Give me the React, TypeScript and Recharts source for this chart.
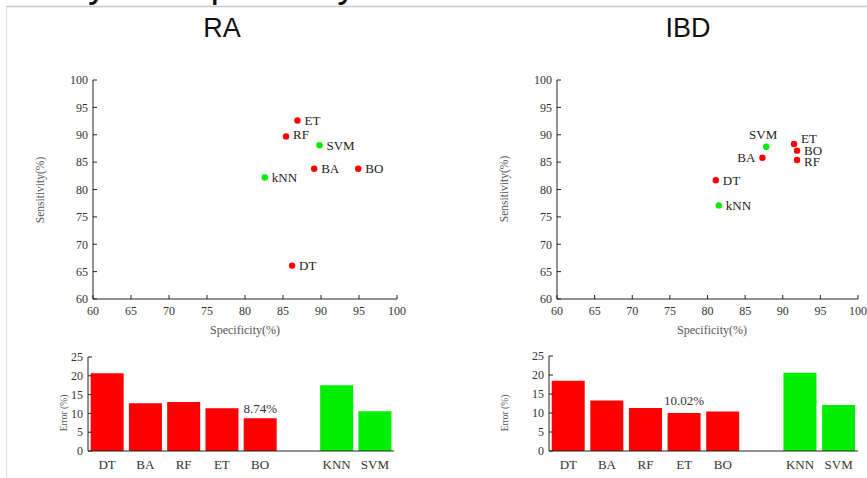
import React from 'react';
import { ScatterChart, Scatter, XAxis, YAxis, BarChart, Bar, Cell, LabelList } from 'recharts';

// ---- data ----
const methods = ['DT', 'BA', 'RF', 'ET', 'BO', 'kNN', 'SVM'];
const ensembleMethods = ['DT', 'BA', 'RF', 'ET', 'BO'];
const raSpecificity = [86.2, 89.1, 85.4, 86.9, 94.9, 82.6, 89.8];
const raSensitivity = [66.1, 83.8, 89.7, 92.6, 83.8, 82.2, 88.1];
const ibdSpecificity = [81.1, 87.3, 91.9, 91.5, 91.9, 81.5, 87.8];
const ibdSensitivity = [81.7, 85.8, 85.4, 88.3, 87.1, 77.1, 87.8];

const errorCategories = ['DT', 'BA', 'RF', 'ET', 'BO', '', 'KNN', 'SVM'];
const raError = [20.7, 12.7, 13.0, 11.4, 8.74, null, 17.5, 10.6];
const ibdError = [18.5, 13.3, 11.3, 10.02, 10.4, null, 20.6, 12.1];

const scatterTicks = [60, 65, 70, 75, 80, 85, 90, 95, 100];
const errorTicks = [0, 5, 10, 15, 20, 25];

// ---- styles ----
const RED = '#ff0000';
const GREEN = '#00ee00';
const AXIS = '#222';
const serif = "'Liberation Serif', 'Times New Roman', serif";
const sans = "'Liberation Sans', Arial, sans-serif";
const tickStyle = { fill: '#333', fontSize: 12, fontFamily: serif };
const barTickStyle = { fill: '#333', fontSize: 13, fontFamily: serif };

const labelPlacement: Record<string, Record<string, string>> = {
  RA: { RF: 'nudged' },
  IBD: { SVM: 'above', BA: 'left', ET: 'raised', RF: 'lowered' },
};

const buildPoints = (spec: number[], sens: number[], ensemble: boolean) =>
  methods
    .map((name, i) => ({ x: spec[i], y: sens[i], name }))
    .filter((p) => ensembleMethods.includes(p.name) === ensemble);

const buildErrors = (errs: (number | null)[]) => {
  let best = -1;
  errs.forEach((v, i) => {
    if (v != null && ensembleMethods.includes(errorCategories[i]) && (best < 0 || v < (errs[best] as number))) best = i;
  });
  return errorCategories.map((cat, i) => ({
    cat,
    err: errs[i],
    note: i === best ? `${errs[i]}%` : '',
  }));
};

function makeShape(color: string, placement: Record<string, string>) {
  return (props: any) => {
    const { cx, cy } = props;
    const name = (props.payload && props.payload.name) ?? props.name;
    const where = placement[name] || 'right';
    let tx = cx + 7;
    let ty = cy + 4.5;
    let anchor: 'start' | 'end' | 'middle' = 'start';
    if (where === 'left') {
      tx = cx - 7;
      anchor = 'end';
    } else if (where === 'above') {
      tx = cx - 3;
      ty = cy - 8;
      anchor = 'middle';
    } else if (where === 'raised') {
      ty = cy - 1;
    } else if (where === 'nudged') {
      ty = cy + 2.5;
    } else if (where === 'lowered') {
      ty = cy + 6;
    }
    return (
      <g>
        <circle cx={cx} cy={cy} r={3.2} fill={color} />
        <text x={tx} y={ty} textAnchor={anchor} fontFamily={serif} fontSize={13} fill="#222">
          {name}
        </text>
      </g>
    );
  };
}

function ScatterPanel(p: { spec: number[]; sens: number[]; panel: string; left: number; width: number; right: number }) {
  const placement = labelPlacement[p.panel];
  return (
    <div style={{ position: 'absolute', left: p.left, top: 60 }}>
      <ScatterChart width={p.width} height={290} margin={{ top: 20, right: p.right, bottom: 11, left: 23 }}>
        <XAxis
          xAxisId="b"
          type="number"
          dataKey="x"
          orientation="bottom"
          domain={[60, 100]}
          ticks={scatterTicks}
          interval={0}
          allowDataOverflow
          height={40}
          tickSize={-4}
          tickMargin={11}
          tick={tickStyle}
          stroke={AXIS}
        />
        <XAxis
          xAxisId="t"
          type="number"
          orientation="top"
          domain={[60, 100]}
          ticks={scatterTicks}
          interval={0}
          allowDataOverflow
          height={0}
          tickSize={-4}
          tickFormatter={() => ''}
          stroke={AXIS}
        />
        <YAxis
          yAxisId="l"
          type="number"
          dataKey="y"
          domain={[60, 100]}
          ticks={scatterTicks}
          interval={0}
          allowDataOverflow
          width={40}
          tickSize={-4}
          tickMargin={9}
          tick={tickStyle}
          stroke={AXIS}
        />
        <YAxis
          yAxisId="r"
          type="number"
          orientation="right"
          domain={[60, 100]}
          ticks={scatterTicks}
          interval={0}
          allowDataOverflow
          width={0}
          tickSize={-4}
          tickFormatter={() => ''}
          stroke={AXIS}
        />
        <Scatter
          xAxisId="b"
          yAxisId="l"
          data={buildPoints(p.spec, p.sens, true)}
          shape={makeShape(RED, placement)}
          isAnimationActive={false}
        />
        <Scatter
          xAxisId="b"
          yAxisId="l"
          data={buildPoints(p.spec, p.sens, false)}
          shape={makeShape(GREEN, placement)}
          isAnimationActive={false}
        />
      </ScatterChart>
    </div>
  );
}

function ErrorPanel(p: {
  errs: (number | null)[];
  left: number;
  top: number;
  width: number;
  height: number;
  margin: { top: number; right: number; bottom: number; left: number };
  noteOffset: number;
}) {
  const data = buildErrors(p.errs);
  return (
    <div style={{ position: 'absolute', left: p.left, top: p.top }}>
      <BarChart width={p.width} height={p.height} data={data} margin={p.margin} barCategoryGap="7%">
        <XAxis
          xAxisId="b"
          dataKey="cat"
          orientation="bottom"
          interval={0}
          height={25}
          tickLine={false}
          tickSize={0}
          tickMargin={9}
          tick={barTickStyle}
          stroke={AXIS}
        />
        <XAxis
          xAxisId="t"
          dataKey="cat"
          orientation="top"
          interval={0}
          height={0}
          tickSize={-4}
          tickFormatter={() => ''}
          stroke={AXIS}
        />
        <YAxis
          yAxisId="l"
          type="number"
          domain={[0, 25]}
          ticks={errorTicks}
          interval={0}
          allowDataOverflow
          width={30}
          tickSize={-4}
          tickMargin={9}
          tick={tickStyle}
          stroke={AXIS}
        />
        <YAxis
          yAxisId="r"
          type="number"
          orientation="right"
          domain={[0, 25]}
          ticks={errorTicks}
          interval={0}
          allowDataOverflow
          width={0}
          tickSize={-4}
          tickFormatter={() => ''}
          stroke={AXIS}
        />
        <Bar xAxisId="b" yAxisId="l" dataKey="err" isAnimationActive={false}>
          {data.map((d, i) => (
            <Cell key={i} fill={ensembleMethods.includes(d.cat) ? RED : GREEN} />
          ))}
          <LabelList
            dataKey="note"
            position="top"
            offset={p.noteOffset}
            style={{ fill: '#333', fontSize: 13, fontFamily: serif }}
          />
        </Bar>
      </BarChart>
    </div>
  );
}

export default function App() {
  const axisTitle = { fontFamily: serif, fill: '#555' } as const;
  return (
    <div
      style={{
        position: 'absolute',
        left: 0,
        top: 0,
        width: 867,
        height: 478,
        background: '#fff',
        overflow: 'hidden',
      }}
    >
      <ScatterPanel spec={raSpecificity} sens={raSensitivity} panel="RA" left={30} width={380} right={13} />
      <ScatterPanel spec={ibdSpecificity} sens={ibdSensitivity} panel="IBD" left={494} width={373} right={9} />
      <ErrorPanel
        errs={raError}
        left={30}
        top={345}
        width={380}
        height={133}
        margin={{ top: 12, right: 16, bottom: 2, left: 28 }}
        noteOffset={5}
      />
      <ErrorPanel
        errs={ibdError}
        left={494}
        top={344}
        width={373}
        height={134}
        margin={{ top: 12, right: 9, bottom: 2, left: 25 }}
        noteOffset={8}
      />
      <svg
        width={867}
        height={478}
        style={{ position: 'absolute', left: 0, top: 0, pointerEvents: 'none' }}
      >
        <text x={-64} y={-3} fontFamily={sans} fontSize={38} fill="#111">
          Sensitivity and specificity
        </text>
        <line x1={6} y1={6.5} x2={867} y2={6.5} stroke="#c8c8c8" strokeWidth={1.5} />
        <line x1={6.5} y1={7} x2={6.5} y2={478} stroke="#e0e0e0" strokeWidth={1.2} />
        <text x={222} y={37} textAnchor="middle" fontFamily={sans} fontSize={27} fill="#111">
          RA
        </text>
        <text x={688} y={37} textAnchor="middle" fontFamily={sans} fontSize={27} fill="#111">
          IBD
        </text>
        <text x={245} y={334} textAnchor="middle" fontSize={12} {...axisTitle}>
          Specificity(%)
        </text>
        <text x={712} y={334} textAnchor="middle" fontSize={12} {...axisTitle}>
          Specificity(%)
        </text>
        <text x={44} y={190} textAnchor="middle" fontSize={11.5} transform="rotate(-90 44 190)" {...axisTitle}>
          Sensitivity(%)
        </text>
        <text x={508} y={189} textAnchor="middle" fontSize={11.5} transform="rotate(-90 508 189)" {...axisTitle}>
          Sensitivity(%)
        </text>
        <text x={67} y={413} textAnchor="middle" fontSize={9.5} transform="rotate(-90 67 413)" {...axisTitle}>
          Error (%)
        </text>
        <text x={508} y={413} textAnchor="middle" fontSize={9.5} transform="rotate(-90 508 413)" {...axisTitle}>
          Error (%)
        </text>
      </svg>
    </div>
  );
}
